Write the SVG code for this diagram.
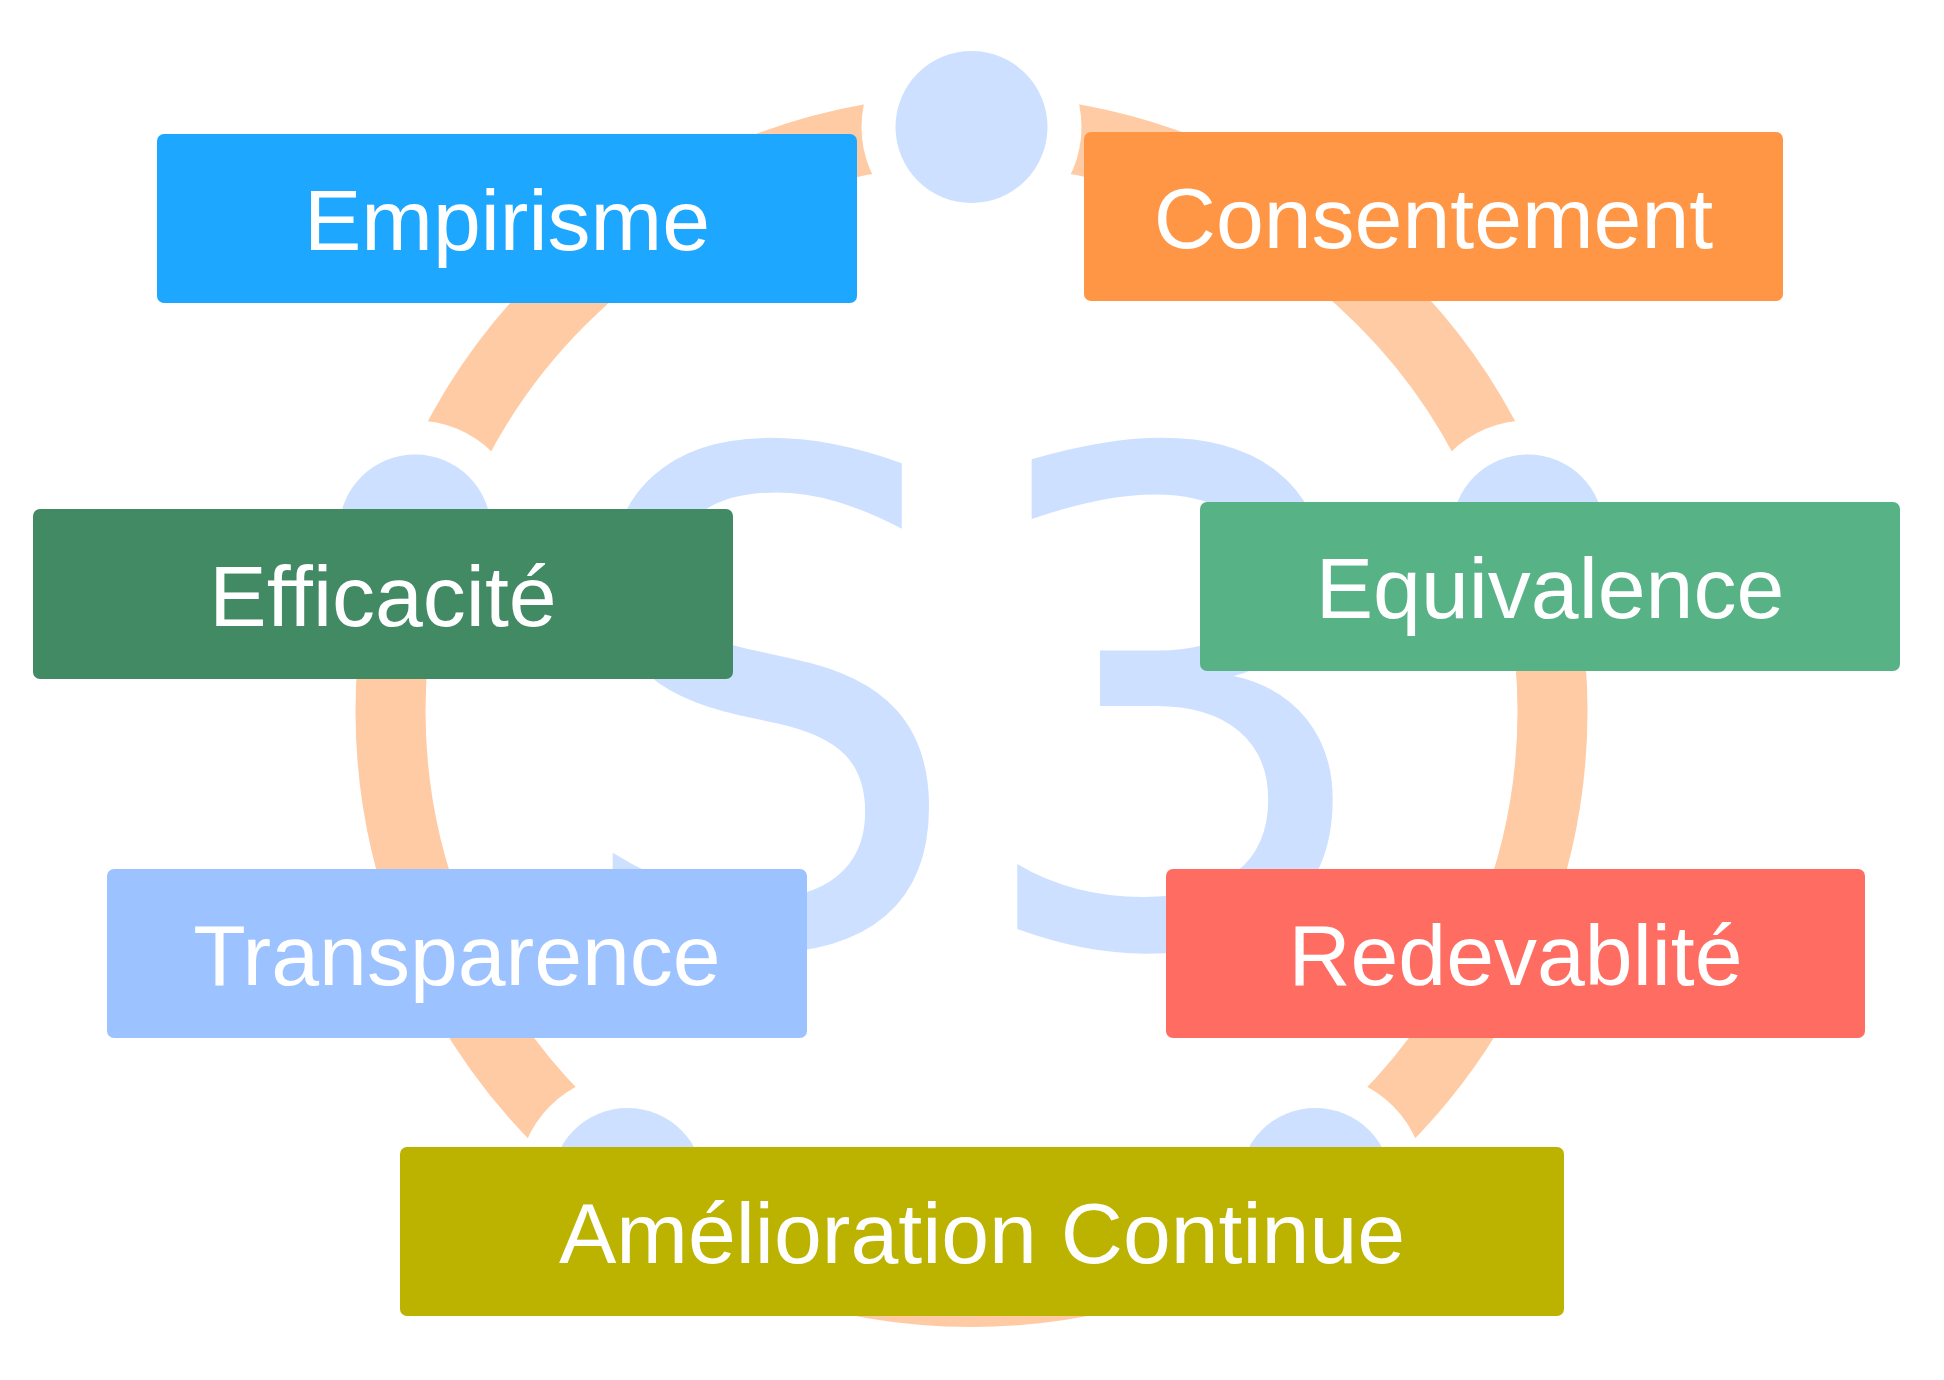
<svg xmlns="http://www.w3.org/2000/svg" width="1944" height="1380" viewBox="0 0 1944 1380">
  <style>
    .box { stroke: none; }
    .label { font-family: "Liberation Sans", Arial, Helvetica, sans-serif; font-size: 86px; fill: #FFFFFF; text-anchor: middle; }
    .halo { fill: #FFFFFF; }
    .dot { fill: #CDE0FF; }
    .mark { font-family: "DejaVu Sans", sans-serif; font-size: 620px; fill: #CDE0FF; }
  </style>
  <rect width="1944" height="1380" fill="#FFFFFF"/>

  <!-- cycle ring with its five stations -->
  <g id="connectors">
    <circle cx="971.5" cy="711" r="581" fill="none" stroke="#FFCBA4" stroke-width="70"/>
    <circle class="halo" cx="971.5" cy="127" r="110"/>
    <circle class="halo" cx="1527.9" cy="530.5" r="110"/>
    <circle class="halo" cx="1315.4" cy="1184" r="110"/>
    <circle class="halo" cx="627.6" cy="1184" r="110"/>
    <circle class="halo" cx="415.1" cy="530.5" r="110"/>
    <circle class="dot" cx="971.5" cy="127" r="76"/>
    <circle class="dot" cx="1527.9" cy="530.5" r="76"/>
    <circle class="dot" cx="1315.4" cy="1184" r="76"/>
    <circle class="dot" cx="627.6" cy="1184" r="76"/>
    <circle class="dot" cx="415.1" cy="530.5" r="76"/>
  </g>

  <!-- central S3 mark -->
  <g id="mark">
    <text class="mark" transform="translate(0 944) scale(1 1.1)" x="570" y="0">S</text>
    <text class="mark" transform="translate(1017 944) scale(1.06 1.1)" x="-47" y="0">3</text>
  </g>

  <g id="empirisme">
    <rect class="box" x="157" y="134" width="700" height="169" rx="7" fill="#1DA7FF"/>
    <text class="label" x="507" y="250">Empirisme</text>
  </g>
  <g id="consentement">
    <rect class="box" x="1084" y="132" width="699" height="169" rx="7" fill="#FF9645"/>
    <text class="label" x="1433.5" y="248">Consentement</text>
  </g>
  <g id="efficacite">
    <rect class="box" x="33" y="509" width="700" height="170" rx="7" fill="#418A64"/>
    <text class="label" x="383" y="626">Efficacité</text>
  </g>
  <g id="equivalence">
    <rect class="box" x="1200" y="502" width="700" height="169" rx="7" fill="#57B386"/>
    <text class="label" x="1550" y="618">Equivalence</text>
  </g>
  <g id="transparence">
    <rect class="box" x="107" y="869" width="700" height="169" rx="7" fill="#9CC2FF"/>
    <text class="label" x="457" y="985">Transparence</text>
  </g>
  <g id="redevablite">
    <rect class="box" x="1166" y="869" width="699" height="169" rx="7" fill="#FF6C62"/>
    <text class="label" x="1515.5" y="985">Redevablité</text>
  </g>
  <g id="amelioration-continue">
    <rect class="box" x="400" y="1147" width="1164" height="169" rx="7" fill="#BCB200"/>
    <text class="label" x="982" y="1263">Amélioration Continue</text>
  </g>
</svg>
